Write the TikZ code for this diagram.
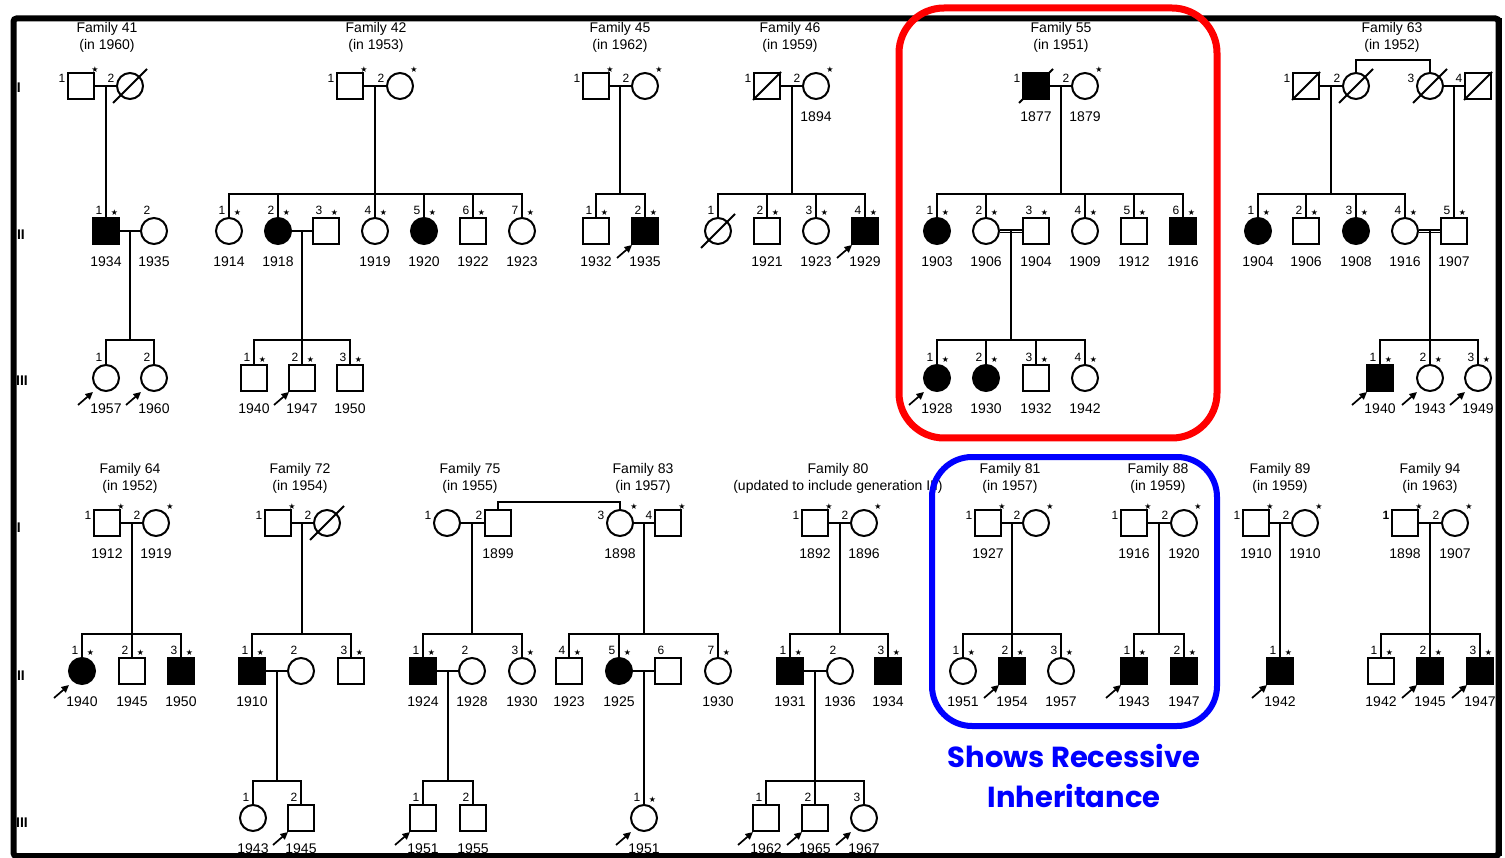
\documentclass[tikz,border=0pt]{standalone}
\usepackage{fontspec}
\setmainfont{Liberation Sans}
\newfontfamily\djv{DejaVu Sans}
\newfontfamily\blu{Poppins}
\usetikzlibrary{arrows.meta}
\newcommand\fyr{\fontsize{14}{14}\selectfont}
\newcommand\fnm{\fontsize{12}{12}\selectfont}
\newcommand\fttl{\fontsize{14}{17}\selectfont}
\newcommand\fst{\djv\fontsize{8}{8}\selectfont}
\newcommand\fgen{\bfseries\fontsize{14}{15}\selectfont}
\newcommand\fblu{\blu\bfseries\fontsize{29}{30}\selectfont}
% pedigree helpers
\newcommand\pSq[4][]{\node[male,#1] (#2) at (#3,#4) {};}
\newcommand\pCi[4][]{\node[fem,#1] (#2) at (#3,#4) {};}
\newcommand\pYr[2]{\node[yr] (#1y) at ([yshift=-31pt]#1.center) {#2};}
\newcommand\pPn[2]{\node[nm] (#1n) at ([xshift=-19pt,yshift=8pt]#1.center) {#2};}
\newcommand\pPs[1]{\node[st] (#1s) at ([xshift=14pt,yshift=16pt]#1.center) {★};}
\newcommand\pKn[2]{\node[nm] (#1n) at ([xshift=-7pt,yshift=21pt]#1.center) {#2};}
\newcommand\pKs[1]{\node[st] (#1s) at ([xshift=8.5pt,yshift=18pt]#1.center) {★};}
\newcommand\pAr[1]{\coordinate (#1t) at ([xshift=-28pt,yshift=-27pt]#1.center);
  \coordinate (#1h) at ([xshift=-13pt,yshift=-14pt]#1.center); \draw[prob] (#1t) -- (#1h);}
\newcommand\pDc[1]{\coordinate (#1d1) at ([xshift=-17pt,yshift=-17pt]#1.center);
  \coordinate (#1d2) at ([xshift=17pt,yshift=17pt]#1.center); \draw[ln] (#1d1) -- (#1d2);}
\newcommand\pDs[1]{\draw[ln] (#1.south west) -- (#1.north east);}
\newcommand\pSib[4]{\draw[ln] (#1) -- (#2); \draw[ln] (#3.north) |- (#2) -| (#4.north);}
\newcommand\pMid[2]{\draw[ln] (#1.north) -- (#1.north |- #2);}
\begin{document}
\begin{tikzpicture}[x=1pt,y=-1pt,
  ln/.style={line width=2pt},
  dbl/.style={line width=2pt, double, double distance=0.8pt},
  male/.style={draw, rectangle, minimum size=26pt, inner sep=0pt, line width=2pt, fill=white},
  fem/.style={draw, circle, minimum size=26pt, inner sep=0pt, line width=2pt, fill=white},
  aff/.style={fill=black},
  yr/.style={font=\fyr, inner sep=0pt},
  nm/.style={font=\fnm, inner sep=0pt},
  st/.style={font=\fst, inner sep=0pt},
  ttl/.style={font=\fttl, align=center, inner sep=0pt},
  gen/.style={font=\fgen, inner sep=0pt, anchor=east},
  prob/.style={line width=1.7pt, -{Triangle[length=7.5pt,width=7pt]}},
  bluetxt/.style={font=\fblu, text=blue, inner sep=0pt}]
\useasboundingbox (0,0) rectangle (1505,858);
\fill[white] (0,0) rectangle (1505,858);

% generation labels (partly under the frame)
\node[gen] (g1) at (21,88) {I};
\node[gen] (g2) at (25,235) {II};
\node[gen] (g3) at (28,381) {III};
\node[gen] (g4) at (21,528) {I};
\node[gen] (g5) at (25,676) {II};
\node[gen] (g6) at (28,823) {III};

% frame
\draw[line width=6pt, rounded corners=3pt] (13.5,18.5) rectangle (1498.5,856);

% ---------------- titles ----------------
\node[ttl] (t41) at (107,37.5) {Family 41\\(in 1960)};
\node[ttl] (t42) at (376,37.5) {Family 42\\(in 1953)};
\node[ttl] (t45) at (620,37.5) {Family 45\\(in 1962)};
\node[ttl] (t46) at (790,37.5) {Family 46\\(in 1959)};
\node[ttl] (t55) at (1061,37.5) {Family 55\\(in 1951)};
\node[ttl] (t63) at (1392,37.5) {Family 63\\(in 1952)};
\node[ttl] (t64) at (130,478) {Family 64\\(in 1952)};
\node[ttl] (t72) at (300,478) {Family 72\\(in 1954)};
\node[ttl] (t75) at (470,478) {Family 75\\(in 1955)};
\node[ttl] (t83) at (643,478) {Family 83\\(in 1957)};
\node[ttl] (t80) at (838,478) {Family 80\\(updated to include generation III)};
\node[ttl] (t81) at (1010,478) {Family 81\\(in 1957)};
\node[ttl] (t88) at (1158,478) {Family 88\\(in 1959)};
\node[ttl] (t89) at (1280,478) {Family 89\\(in 1959)};
\node[ttl] (t94) at (1430,478) {Family 94\\(in 1963)};

% ---------------- Family 41 ----------------
\pSq{f41a1}{81}{86} \pPn{f41a1}{1} \pPs{f41a1}
\pCi{f41a2}{130}{86} \pPn{f41a2}{2} \pDc{f41a2}
\draw[ln] (f41a1) -- (f41a2);
\coordinate (f41m) at (106,86);
\pSq[aff]{f41b1}{106}{231} \pKn{f41b1}{1} \pKs{f41b1} \pYr{f41b1}{1934}
\draw[ln] (f41m) -- (f41b1.north);
\pCi{f41b2}{154}{231} \pKn{f41b2}{2} \pYr{f41b2}{1935}
\draw[ln] (f41b1) -- (f41b2);
\coordinate (f41bm) at (130,231); \coordinate (f41bs) at (130,340);
\pCi{f41c1}{106}{378} \pKn{f41c1}{1} \pYr{f41c1}{1957} \pAr{f41c1}
\pCi{f41c2}{154}{378} \pKn{f41c2}{2} \pYr{f41c2}{1960} \pAr{f41c2}
\pSib{f41bm}{f41bs}{f41c1}{f41c2}

% ---------------- Family 42 ----------------
\pSq{f42a1}{350}{86} \pPn{f42a1}{1} \pPs{f42a1}
\pCi{f42a2}{400}{86} \pPn{f42a2}{2} \pPs{f42a2}
\draw[ln] (f42a1) -- (f42a2);
\coordinate (f42m) at (375,86); \coordinate (f42s) at (375,194);
\pCi{f42b1}{229}{231} \pKn{f42b1}{1} \pKs{f42b1} \pYr{f42b1}{1914}
\pCi[aff]{f42b2}{278}{231} \pKn{f42b2}{2} \pKs{f42b2} \pYr{f42b2}{1918}
\pSq{f42b3}{326}{231} \pKn{f42b3}{3} \pKs{f42b3}
\pCi{f42b4}{375}{231} \pKn{f42b4}{4} \pKs{f42b4} \pYr{f42b4}{1919}
\pCi[aff]{f42b5}{424}{231} \pKn{f42b5}{5} \pKs{f42b5} \pYr{f42b5}{1920}
\pSq{f42b6}{473}{231} \pKn{f42b6}{6} \pKs{f42b6} \pYr{f42b6}{1922}
\pCi{f42b7}{522}{231} \pKn{f42b7}{7} \pKs{f42b7} \pYr{f42b7}{1923}
\pSib{f42m}{f42s}{f42b1}{f42b7}
\pMid{f42b2}{f42s} \pMid{f42b4}{f42s} \pMid{f42b5}{f42s} \pMid{f42b6}{f42s}
\draw[ln] (f42b2) -- (f42b3);
\coordinate (f42bm) at (302,231); \coordinate (f42bs) at (302,340);
\pSq{f42c1}{254}{378} \pKn{f42c1}{1} \pKs{f42c1} \pYr{f42c1}{1940}
\pSq{f42c2}{302}{378} \pKn{f42c2}{2} \pKs{f42c2} \pYr{f42c2}{1947} \pAr{f42c2}
\pSq{f42c3}{350}{378} \pKn{f42c3}{3} \pKs{f42c3} \pYr{f42c3}{1950}
\pSib{f42bm}{f42bs}{f42c1}{f42c3} \pMid{f42c2}{f42bs}

% ---------------- Family 45 ----------------
\pSq{f45a1}{596}{86} \pPn{f45a1}{1} \pPs{f45a1}
\pCi{f45a2}{645}{86} \pPn{f45a2}{2} \pPs{f45a2}
\draw[ln] (f45a1) -- (f45a2);
\coordinate (f45m) at (620,86); \coordinate (f45s) at (620,194);
\pSq{f45b1}{596}{231} \pKn{f45b1}{1} \pKs{f45b1} \pYr{f45b1}{1932}
\pSq[aff]{f45b2}{645}{231} \pKn{f45b2}{2} \pKs{f45b2} \pYr{f45b2}{1935} \pAr{f45b2}
\pSib{f45m}{f45s}{f45b1}{f45b2}

% ---------------- Family 46 ----------------
\pSq{f46a1}{767}{86} \pPn{f46a1}{1} \pDs{f46a1}
\pCi{f46a2}{816}{86} \pPn{f46a2}{2} \pPs{f46a2} \pYr{f46a2}{1894}
\draw[ln] (f46a1) -- (f46a2);
\coordinate (f46m) at (792,86); \coordinate (f46s) at (792,194);
\pCi{f46b1}{718}{231} \pKn{f46b1}{1} \pDc{f46b1}
\pSq{f46b2}{767}{231} \pKn{f46b2}{2} \pKs{f46b2} \pYr{f46b2}{1921}
\pCi{f46b3}{816}{231} \pKn{f46b3}{3} \pKs{f46b3} \pYr{f46b3}{1923}
\pSq[aff]{f46b4}{865}{231} \pKn{f46b4}{4} \pKs{f46b4} \pYr{f46b4}{1929} \pAr{f46b4}
\pSib{f46m}{f46s}{f46b1}{f46b4}
\pMid{f46b2}{f46s} \pMid{f46b3}{f46s}

% ---------------- Family 55 ----------------
\pSq[aff]{f55a1}{1036}{86} \pPn{f55a1}{1} \pDc{f55a1} \pYr{f55a1}{1877}
\pCi{f55a2}{1085}{86} \pPn{f55a2}{2} \pPs{f55a2} \pYr{f55a2}{1879}
\draw[ln] (f55a1) -- (f55a2);
\coordinate (f55m) at (1061,86); \coordinate (f55s) at (1061,194);
\pCi[aff]{f55b1}{937}{231} \pKn{f55b1}{1} \pKs{f55b1} \pYr{f55b1}{1903}
\pCi{f55b2}{986}{231} \pKn{f55b2}{2} \pKs{f55b2} \pYr{f55b2}{1906}
\pSq{f55b3}{1036}{231} \pKn{f55b3}{3} \pKs{f55b3} \pYr{f55b3}{1904}
\pCi{f55b4}{1085}{231} \pKn{f55b4}{4} \pKs{f55b4} \pYr{f55b4}{1909}
\pSq{f55b5}{1134}{231} \pKn{f55b5}{5} \pKs{f55b5} \pYr{f55b5}{1912}
\pSq[aff]{f55b6}{1183}{231} \pKn{f55b6}{6} \pKs{f55b6} \pYr{f55b6}{1916}
\pSib{f55m}{f55s}{f55b1}{f55b6}
\pMid{f55b2}{f55s} \pMid{f55b4}{f55s} \pMid{f55b5}{f55s}
\draw[dbl] (f55b2) -- (f55b3);
\coordinate (f55bm) at (1011,231); \coordinate (f55bs) at (1011,340);
\pCi[aff]{f55c1}{937}{378} \pKn{f55c1}{1} \pKs{f55c1} \pYr{f55c1}{1928} \pAr{f55c1}
\pCi[aff]{f55c2}{986}{378} \pKn{f55c2}{2} \pKs{f55c2} \pYr{f55c2}{1930}
\pSq{f55c3}{1036}{378} \pKn{f55c3}{3} \pKs{f55c3} \pYr{f55c3}{1932}
\pCi{f55c4}{1085}{378} \pKn{f55c4}{4} \pKs{f55c4} \pYr{f55c4}{1942}
\pSib{f55bm}{f55bs}{f55c1}{f55c4}
\pMid{f55c2}{f55bs} \pMid{f55c3}{f55bs}

% ---------------- Family 63 ----------------
\pSq{f63a1}{1306}{86} \pPn{f63a1}{1} \pDs{f63a1}
\pCi{f63a2}{1356}{86} \pPn{f63a2}{2} \pDc{f63a2}
\pCi{f63a3}{1430}{86} \pPn{f63a3}{3} \pDc{f63a3}
\pSq{f63a4}{1478}{86} \pPn{f63a4}{4} \pDs{f63a4}
\draw[ln] (f63a1) -- (f63a2);
\draw[ln] (f63a3) -- (f63a4);
\draw[ln] (f63a2.north) -- ++(0,-12) -| (f63a3.north);
\coordinate (f63m) at (1331,86); \coordinate (f63s) at (1331,194);
\coordinate (f63m2) at (1454,86);
\pCi[aff]{f63b1}{1258}{231} \pKn{f63b1}{1} \pKs{f63b1} \pYr{f63b1}{1904}
\pSq{f63b2}{1306}{231} \pKn{f63b2}{2} \pKs{f63b2} \pYr{f63b2}{1906}
\pCi[aff]{f63b3}{1356}{231} \pKn{f63b3}{3} \pKs{f63b3} \pYr{f63b3}{1908}
\pCi{f63b4}{1405}{231} \pKn{f63b4}{4} \pKs{f63b4} \pYr{f63b4}{1916}
\pSq{f63b5}{1454}{231} \pKn{f63b5}{5} \pKs{f63b5} \pYr{f63b5}{1907}
\pSib{f63m}{f63s}{f63b1}{f63b4}
\pMid{f63b2}{f63s} \pMid{f63b3}{f63s}
\draw[ln] (f63m2) -- (f63b5.north);
\draw[dbl] (f63b4) -- (f63b5);
\coordinate (f63bm) at (1430,231); \coordinate (f63bs) at (1430,340);
\pSq[aff]{f63c1}{1380}{378} \pKn{f63c1}{1} \pKs{f63c1} \pYr{f63c1}{1940} \pAr{f63c1}
\pCi{f63c2}{1430}{378} \pKn{f63c2}{2} \pKs{f63c2} \pYr{f63c2}{1943} \pAr{f63c2}
\pCi{f63c3}{1478}{378} \pKn{f63c3}{3} \pKs{f63c3} \pYr{f63c3}{1949} \pAr{f63c3}
\pSib{f63bm}{f63bs}{f63c1}{f63c3} \pMid{f63c2}{f63bs}

% ---------------- Family 64 ----------------
\pSq{f64a1}{107}{523} \pPn{f64a1}{1} \pPs{f64a1} \pYr{f64a1}{1912}
\pCi{f64a2}{156}{523} \pPn{f64a2}{2} \pPs{f64a2} \pYr{f64a2}{1919}
\draw[ln] (f64a1) -- (f64a2);
\coordinate (f64m) at (132,523); \coordinate (f64s) at (132,634);
\pCi[aff]{f64b1}{82}{671} \pKn{f64b1}{1} \pKs{f64b1} \pYr{f64b1}{1940} \pAr{f64b1}
\pSq{f64b2}{132}{671} \pKn{f64b2}{2} \pKs{f64b2} \pYr{f64b2}{1945}
\pSq[aff]{f64b3}{181}{671} \pKn{f64b3}{3} \pKs{f64b3} \pYr{f64b3}{1950}
\pSib{f64m}{f64s}{f64b1}{f64b3} \pMid{f64b2}{f64s}

% ---------------- Family 72 ----------------
\pSq{f72a1}{278}{523} \pPn{f72a1}{1} \pPs{f72a1}
\pCi{f72a2}{327}{523} \pPn{f72a2}{2} \pDc{f72a2}
\draw[ln] (f72a1) -- (f72a2);
\coordinate (f72m) at (302,523); \coordinate (f72s) at (302,634);
\pSq[aff]{f72b1}{252}{671} \pKn{f72b1}{1} \pKs{f72b1} \pYr{f72b1}{1910}
\pCi{f72b2}{301}{671} \pKn{f72b2}{2}
\pSq{f72b3}{351}{671} \pKn{f72b3}{3} \pKs{f72b3}
\pSib{f72m}{f72s}{f72b1}{f72b3}
\draw[ln] (f72b1) -- (f72b2);
\coordinate (f72bm) at (277,671); \coordinate (f72bs) at (277,781);
\pCi{f72c1}{253}{818} \pKn{f72c1}{1} \pYr{f72c1}{1943}
\pSq{f72c2}{301}{818} \pKn{f72c2}{2} \pYr{f72c2}{1945} \pAr{f72c2}
\pSib{f72bm}{f72bs}{f72c1}{f72c2}

% ---------------- Family 75 / 83 ----------------
\pCi{f75a1}{447}{523} \pPn{f75a1}{1}
\pSq{f75a2}{498}{523} \pPn{f75a2}{2} \pYr{f75a2}{1899}
\draw[ln] (f75a1) -- (f75a2);
\pCi{f83a3}{620}{523} \pPn{f83a3}{3} \pPs{f83a3} \pYr{f83a3}{1898}
\pSq{f83a4}{668}{523} \pPn{f83a4}{4} \pPs{f83a4}
\draw[ln] (f83a3) -- (f83a4);
\draw[ln] (f75a2.north) -- ++(0,-7) -| (f83a3.north);
\coordinate (f75m) at (472,523); \coordinate (f75s) at (472,634);
\pSq[aff]{f75b1}{423}{671} \pKn{f75b1}{1} \pKs{f75b1} \pYr{f75b1}{1924}
\pCi{f75b2}{472}{671} \pKn{f75b2}{2} \pYr{f75b2}{1928}
\pCi{f75b3}{522}{671} \pKn{f75b3}{3} \pKs{f75b3} \pYr{f75b3}{1930}
\pSib{f75m}{f75s}{f75b1}{f75b3}
\draw[ln] (f75b1) -- (f75b2);
\coordinate (f75bm) at (448,671); \coordinate (f75bs) at (448,781);
\pSq{f75c1}{423}{818} \pKn{f75c1}{1} \pYr{f75c1}{1951} \pAr{f75c1}
\pSq{f75c2}{473}{818} \pKn{f75c2}{2} \pYr{f75c2}{1955}
\pSib{f75bm}{f75bs}{f75c1}{f75c2}

\coordinate (f83m) at (644,523); \coordinate (f83s) at (644,634);
\pSq{f83b4}{569}{671} \pKn{f83b4}{4} \pKs{f83b4} \pYr{f83b4}{1923}
\pCi[aff]{f83b5}{619}{671} \pKn{f83b5}{5} \pKs{f83b5} \pYr{f83b5}{1925}
\pSq{f83b6}{668}{671} \pKn{f83b6}{6}
\pCi{f83b7}{718}{671} \pKn{f83b7}{7} \pKs{f83b7} \pYr{f83b7}{1930}
\pSib{f83m}{f83s}{f83b4}{f83b7} \pMid{f83b5}{f83s}
\draw[ln] (f83b5) -- (f83b6);
\coordinate (f83bm) at (644,671);
\pCi{f83c1}{644}{818} \pKn{f83c1}{1} \pKs{f83c1} \pYr{f83c1}{1951} \pAr{f83c1}
\draw[ln] (f83bm) -- (f83c1.north);

% ---------------- Family 80 ----------------
\pSq{f80a1}{815}{523} \pPn{f80a1}{1} \pPs{f80a1} \pYr{f80a1}{1892}
\pCi{f80a2}{864}{523} \pPn{f80a2}{2} \pPs{f80a2} \pYr{f80a2}{1896}
\draw[ln] (f80a1) -- (f80a2);
\coordinate (f80m) at (840,523); \coordinate (f80s) at (840,634);
\pSq[aff]{f80b1}{790}{671} \pKn{f80b1}{1} \pKs{f80b1} \pYr{f80b1}{1931}
\pCi{f80b2}{840}{671} \pKn{f80b2}{2} \pYr{f80b2}{1936}
\pSq[aff]{f80b3}{888}{671} \pKn{f80b3}{3} \pKs{f80b3} \pYr{f80b3}{1934}
\pSib{f80m}{f80s}{f80b1}{f80b3}
\draw[ln] (f80b1) -- (f80b2);
\coordinate (f80bm) at (815,671); \coordinate (f80bs) at (815,781);
\pSq{f80c1}{766}{818} \pKn{f80c1}{1} \pYr{f80c1}{1962} \pAr{f80c1}
\pSq{f80c2}{815}{818} \pKn{f80c2}{2} \pYr{f80c2}{1965} \pAr{f80c2}
\pCi{f80c3}{864}{818} \pKn{f80c3}{3} \pYr{f80c3}{1967} \pAr{f80c3}
\pSib{f80bm}{f80bs}{f80c1}{f80c3} \pMid{f80c2}{f80bs}

% ---------------- Family 81 ----------------
\pSq{f81a1}{988}{523} \pPn{f81a1}{1} \pPs{f81a1} \pYr{f81a1}{1927}
\pCi{f81a2}{1036}{523} \pPn{f81a2}{2} \pPs{f81a2}
\draw[ln] (f81a1) -- (f81a2);
\coordinate (f81m) at (1012,523); \coordinate (f81s) at (1012,634);
\pCi{f81b1}{963}{671} \pKn{f81b1}{1} \pKs{f81b1} \pYr{f81b1}{1951}
\pSq[aff]{f81b2}{1012}{671} \pKn{f81b2}{2} \pKs{f81b2} \pYr{f81b2}{1954} \pAr{f81b2}
\pCi{f81b3}{1061}{671} \pKn{f81b3}{3} \pKs{f81b3} \pYr{f81b3}{1957}
\pSib{f81m}{f81s}{f81b1}{f81b3} \pMid{f81b2}{f81s}

% ---------------- Family 88 ----------------
\pSq{f88a1}{1134}{523} \pPn{f88a1}{1} \pPs{f88a1} \pYr{f88a1}{1916}
\pCi{f88a2}{1184}{523} \pPn{f88a2}{2} \pPs{f88a2} \pYr{f88a2}{1920}
\draw[ln] (f88a1) -- (f88a2);
\coordinate (f88m) at (1159,523); \coordinate (f88s) at (1159,634);
\pSq[aff]{f88b1}{1134}{671} \pKn{f88b1}{1} \pKs{f88b1} \pYr{f88b1}{1943} \pAr{f88b1}
\pSq[aff]{f88b2}{1184}{671} \pKn{f88b2}{2} \pKs{f88b2} \pYr{f88b2}{1947}
\pSib{f88m}{f88s}{f88b1}{f88b2}

% ---------------- Family 89 ----------------
\pSq{f89a1}{1256}{523} \pPn{f89a1}{1} \pPs{f89a1} \pYr{f89a1}{1910}
\pCi{f89a2}{1305}{523} \pPn{f89a2}{2} \pPs{f89a2} \pYr{f89a2}{1910}
\draw[ln] (f89a1) -- (f89a2);
\coordinate (f89m) at (1280,523);
\pSq[aff]{f89b1}{1280}{671} \pKn{f89b1}{1} \pKs{f89b1} \pYr{f89b1}{1942} \pAr{f89b1}
\draw[ln] (f89m) -- (f89b1.north);

% ---------------- Family 94 ----------------
\pSq{f94a1}{1405}{523} \pPn{f94a1}{\textbf{1}} \pPs{f94a1} \pYr{f94a1}{1898}
\pCi{f94a2}{1455}{523} \pPn{f94a2}{2} \pPs{f94a2} \pYr{f94a2}{1907}
\draw[ln] (f94a1) -- (f94a2);
\coordinate (f94m) at (1430,523); \coordinate (f94s) at (1430,634);
\pSq{f94b1}{1381}{671} \pKn{f94b1}{1} \pKs{f94b1} \pYr{f94b1}{1942}
\pSq[aff]{f94b2}{1430}{671} \pKn{f94b2}{2} \pKs{f94b2} \pYr{f94b2}{1945} \pAr{f94b2}
\pSq[aff]{f94b3}{1480}{671} \pKn{f94b3}{3} \pKs{f94b3} \pYr{f94b3}{1947} \pAr{f94b3}
\pSib{f94m}{f94s}{f94b1}{f94b3} \pMid{f94b2}{f94s}

% right frame edge again (covers the cut symbol)
\draw[line width=6pt] (1498.5,18.5) -- (1498.5,856);

% ---------------- highlight boxes ----------------
\draw[red, line width=7pt, rounded corners=45pt] (899,8) rectangle (1217,438);
\draw[blue, line width=6pt, rounded corners=40pt] (932,457) rectangle (1217,726);
\node[bluetxt] (rec1) at (1074,756) {Shows Recessive};
\node[bluetxt] (rec2) at (1074,796) {Inheritance};
\end{tikzpicture}
\end{document}
